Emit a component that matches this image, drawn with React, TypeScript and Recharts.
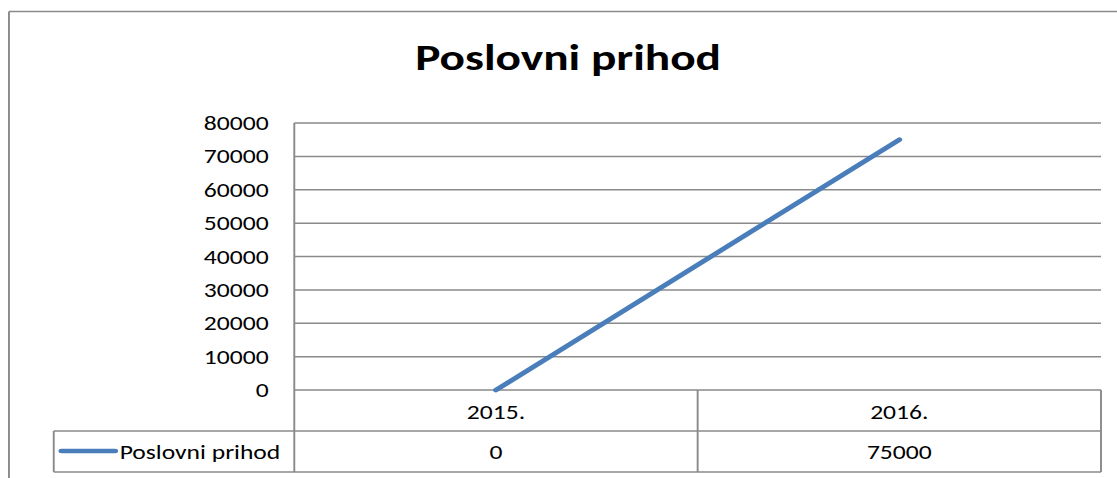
import { LineChart, Line, XAxis, YAxis, CartesianGrid } from "recharts";

const chartTitle = "Poslovni prihod";
const seriesName = "Poslovni prihod";
const categories = ["2015.", "2016."];
const revenue = [0, 75000];
const yTicks = [0, 10000, 20000, 30000, 40000, 50000, 60000, 70000, 80000];

// the reference is an Excel chart stretched sideways; draw narrow, then stretch
const STRETCH = 1117 / 873;
const CHART_W = 873;
const CHART_H = 478;
const Y_AXIS_W = 230;
const RIGHT_GAP = 12.5;
const TABLE_H = 88;
const LEGEND_LEFT = 42;

const FONT = "Calibri, Carlito, Lato, sans-serif";
const TEXT_SIZE = 20;
const GRID = "#8a8a8a";
const BLUE = "#4A7EBB";

const halfBand = (CHART_W - Y_AXIS_W - RIGHT_GAP) / categories.length / 2;
const plotRight = CHART_W - RIGHT_GAP;

const data = categories.map((cat, i) => ({ cat, value: revenue[i] }));

function TableTick(props: any) {
  const { x, y, payload, index } = props;
  const rowLine = y + 41;
  const bottom = y + 82;
  const last = index === categories.length - 1;
  return (
    <g>
      {index === 0 && (
        <g>
          <line x1={LEGEND_LEFT} x2={plotRight} y1={rowLine} y2={rowLine} stroke={GRID} strokeWidth={1.5} />
          <line x1={LEGEND_LEFT} x2={plotRight} y1={bottom} y2={bottom} stroke={GRID} strokeWidth={1.5} />
          <line x1={LEGEND_LEFT} x2={LEGEND_LEFT} y1={rowLine} y2={bottom} stroke={GRID} strokeWidth={1.5} />
          <line x1={48} x2={90} y1={y + 61} y2={y + 61} stroke={BLUE} strokeWidth={4.5} strokeLinecap="round" />
          <text x={93.5} y={y + 69} fontSize={TEXT_SIZE} fontFamily={FONT} fill="#000">
            {seriesName}
          </text>
        </g>
      )}
      <line x1={x - halfBand} x2={x - halfBand} y1={y} y2={bottom} stroke={GRID} strokeWidth={1.5} />
      {last && (
        <line x1={x + halfBand} x2={x + halfBand} y1={y} y2={bottom} stroke={GRID} strokeWidth={1.5} />
      )}
      <text x={x} y={y + 29} textAnchor="middle" fontSize={TEXT_SIZE} fontFamily={FONT} fill="#000">
        {payload.value}
      </text>
      <text x={x} y={y + 69} textAnchor="middle" fontSize={TEXT_SIZE} fontFamily={FONT} fill="#000">
        {revenue[index]}
      </text>
    </g>
  );
}

export default function App() {
  return (
    <div
      style={{
        position: "absolute",
        left: 0,
        top: 0,
        width: CHART_W,
        height: CHART_H,
        background: "#fff",
        transform: `scaleX(${STRETCH})`,
        transformOrigin: "0 0",
      }}
    >
      <LineChart
        width={CHART_W}
        height={CHART_H}
        data={data}
        margin={{ top: 123, right: RIGHT_GAP, bottom: 0, left: 0 }}
      >
        <CartesianGrid horizontal vertical={false} stroke={GRID} strokeWidth={1.5} />
        <XAxis
          dataKey="cat"
          type="category"
          height={TABLE_H}
          padding={{ left: halfBand, right: halfBand }}
          interval={0}
          axisLine={false}
          tickLine={false}
          tickSize={0}
          tickMargin={0}
          tick={<TableTick />}
        />
        <YAxis
          width={Y_AXIS_W}
          domain={[0, 80000]}
          ticks={yTicks}
          interval={0}
          axisLine={{ stroke: GRID, strokeWidth: 1.5 }}
          tickLine={false}
          tickSize={0}
          tickMargin={20}
          tick={{ fill: "#000", fontSize: TEXT_SIZE, fontFamily: FONT }}
        />
        <Line
          type="linear"
          dataKey="value"
          stroke={BLUE}
          strokeWidth={4.5}
          strokeLinecap="round"
          dot={false}
          isAnimationActive={false}
        />
      </LineChart>
      <svg
        width={CHART_W}
        height={CHART_H}
        style={{ position: "absolute", left: 0, top: 0, pointerEvents: "none" }}
      >
        <line x1={7} x2={CHART_W} y1={11.5} y2={11.5} stroke={GRID} strokeWidth={1.5} />
        <line x1={7} x2={7} y1={11.5} y2={CHART_H} stroke={GRID} strokeWidth={1.5} />
        <text x={444} y={70} textAnchor="middle" fontSize={37} fontWeight="bold" fontFamily={FONT} fill="#000">
          {chartTitle}
        </text>
      </svg>
    </div>
  );
}
